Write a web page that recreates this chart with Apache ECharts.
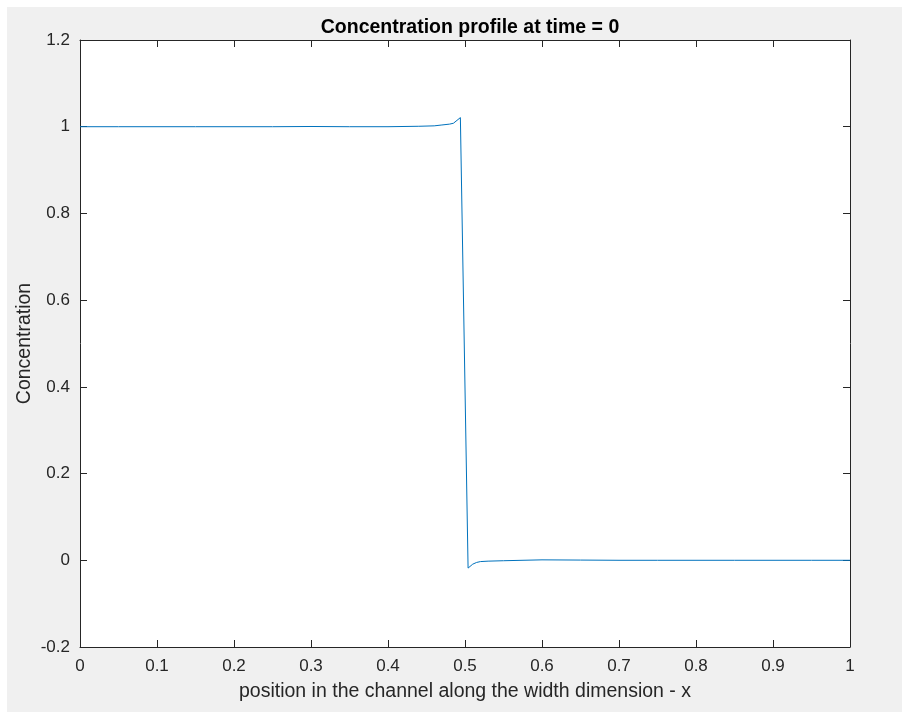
<!DOCTYPE html>
<html>
<head>
<meta charset="utf-8">
<script src="https://cdn.jsdelivr.net/npm/echarts@6/dist/echarts.min.js"></script>
<style>
  html, body { margin: 0; padding: 0; background: #ffffff; }
  #chart { width: 902px; height: 713px; }
</style>
</head>
<body>
<div id="chart"></div>
<script>
// Concentration across the channel width at t = 0 (step at x = 0.5)
const positions = [0, 0.05, 0.1, 0.15, 0.2, 0.25, 0.3, 0.35, 0.4, 0.44, 0.46, 0.47, 0.48, 0.485, 0.494,
                   0.504, 0.51, 0.515, 0.52, 0.53, 0.55, 0.6, 0.65, 0.7, 0.75, 0.8, 0.85, 0.9, 0.95, 1];
const concentration = [1.0, 1.0, 1.0, 1.0, 1.0, 1.0, 1.0005, 1.0, 1.0, 1.001, 1.002, 1.004, 1.006, 1.008, 1.021,
                       -0.018, -0.009, -0.005, -0.003, -0.002, -0.001, 0.001, 0.0005, 0.0, 0.0, 0.0, 0.0, 0.0, 0.0, 0.0];
const xTicks = { min: 0, max: 1, step: 0.1 };
const yTicks = { min: -0.2, max: 1.2, step: 0.2 };

const titleText = 'Concentration profile at time = 0';
const xLabel = 'position in the channel along the width dimension - x';
const yLabel = 'Concentration';

const font = '"Liberation Sans", Arial, Helvetica, sans-serif';
const axisColor = '#262626';

function axisBase(extra) {
  return Object.assign({
    type: 'value',
    axisLine: { show: true, onZero: false, lineStyle: { color: axisColor, width: 1 } },
    axisTick: { show: true, inside: true, length: 7, lineStyle: { color: axisColor, width: 1 } },
    splitLine: { show: false },
    axisLabel: { show: false }
  }, extra);
}

const chart = echarts.init(document.getElementById('chart'), null, { renderer: 'canvas' });
chart.setOption({
  backgroundColor: '#ffffff',
  animation: false,
  graphic: [{
    type: 'rect', z: -10, silent: true,
    shape: { x: 7, y: 7, width: 895, height: 705 },
    style: { fill: '#f0f0f0' }
  }],
  title: {
    text: titleText,
    left: 465, top: 13, textAlign: 'center',
    textStyle: { fontFamily: font, fontSize: 19.5, fontWeight: 'bold', color: '#000' }
  },
  grid: {
    left: 80, top: 40, right: 52, bottom: 66,
    show: true, backgroundColor: '#ffffff', borderWidth: 0
  },
  xAxis: [
    axisBase({
      position: 'bottom', min: xTicks.min, max: xTicks.max, interval: xTicks.step,
      axisLabel: { show: true, fontFamily: font, fontSize: 17, color: '#262626', margin: 11 },
      name: xLabel, nameLocation: 'middle', nameGap: 35, nameMoveOverlap: false,
      nameTextStyle: { fontFamily: font, fontSize: 19.5, color: '#262626' }
    }),
    axisBase({ position: 'top', min: xTicks.min, max: xTicks.max, interval: xTicks.step })
  ],
  yAxis: [
    axisBase({
      position: 'left', min: yTicks.min, max: yTicks.max, interval: yTicks.step,
      axisLabel: { show: true, fontFamily: font, fontSize: 17, color: '#262626', margin: 10,
                   formatter: v => String(Math.round(v * 10) / 10) },
      name: yLabel, nameLocation: 'middle', nameGap: 45, nameRotate: 90, nameMoveOverlap: false,
      nameTextStyle: { fontFamily: font, fontSize: 19.5, color: '#262626' }
    }),
    axisBase({ position: 'right', min: yTicks.min, max: yTicks.max, interval: yTicks.step })
  ],
  series: [{
    type: 'line',
    xAxisIndex: 0, yAxisIndex: 0,
    data: positions.map((x, i) => [x, concentration[i]]),
    showSymbol: false,
    lineStyle: { color: '#0072BD', width: 1 },
    silent: true
  }]
});
</script>
</body>
</html>
